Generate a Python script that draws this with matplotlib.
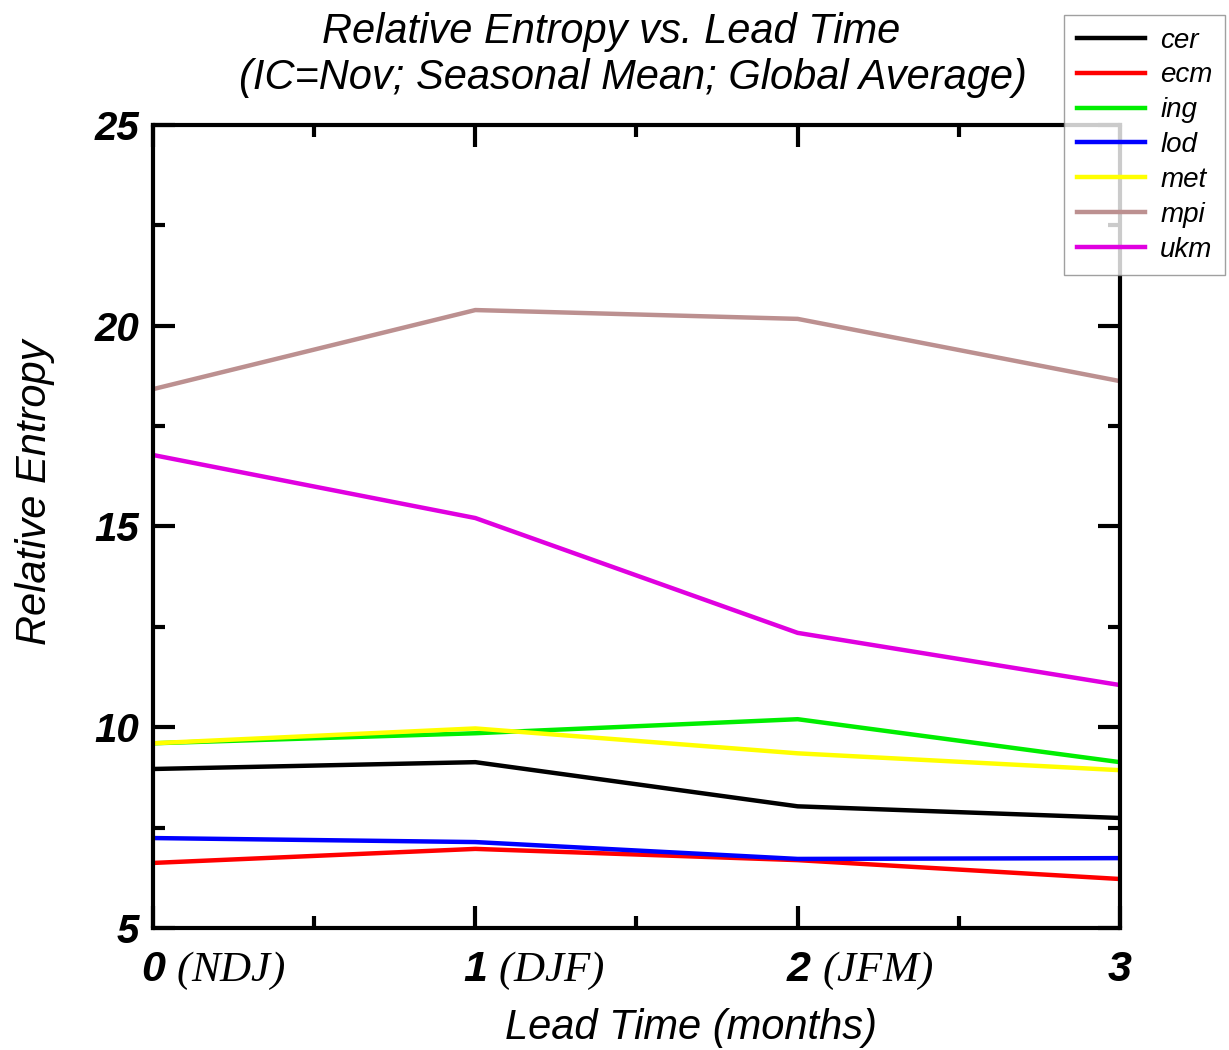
import matplotlib
matplotlib.use('Agg')
import matplotlib.pyplot as plt
from matplotlib.ticker import MultipleLocator
import matplotlib.transforms as mtransforms

plt.rcParams['font.family'] = ['Liberation Sans', 'DejaVu Sans']
plt.rcParams['mathtext.fontset'] = 'custom'
plt.rcParams['mathtext.rm'] = 'Liberation Serif:italic'
plt.rcParams['mathtext.it'] = 'Liberation Serif:italic'

lead = [0, 1, 2, 3]
lead_labels = ['0 $(NDJ)$', '1 $(DJF)$', '2 $(JFM)$', '3']

models = ['cer', 'ecm', 'ing', 'lod', 'met', 'mpi', 'ukm']
colors = ['#000000', '#ff0000', '#00ee00', '#0000ff', '#ffff00', '#bc9090', '#e000e0']

cer = [8.96, 9.13, 8.03, 7.74]
ecm = [6.62, 6.97, 6.69, 6.22]
ing = [9.60, 9.85, 10.20, 9.13]
lod = [7.24, 7.14, 6.72, 6.74]
met = [9.60, 9.97, 9.35, 8.93]
mpi = [18.42, 20.39, 20.17, 18.62]
ukm = [16.78, 15.21, 12.35, 11.05]
series = [cer, ecm, ing, lod, met, mpi, ukm]

title_lines = ['Relative Entropy vs. Lead Time',
               '(IC=Nov; Seasonal Mean; Global Average)']

lw = 3.2

fig = plt.figure(figsize=(12.29, 10.5), dpi=100)
ax = fig.add_axes([0.1245, 0.1162, 0.7868, 0.7648])

handles = []
for name, vals, c in zip(models, series, colors):
    h, = ax.plot(lead, vals, color=c, linewidth=lw, label=name,
                 solid_joinstyle='round')
    handles.append(h)

ax.set_xlim(0, 3)
ax.set_ylim(5, 25)
ax.xaxis.set_minor_locator(MultipleLocator(0.5))
ax.yaxis.set_major_locator(MultipleLocator(5))
ax.yaxis.set_minor_locator(MultipleLocator(2.5))
ax.set_xticks(lead)
ax.set_xticklabels(lead_labels)

for side in ['left', 'right', 'top', 'bottom']:
    ax.spines[side].set_linewidth(3)

ax.tick_params('both', which='major', direction='in', length=16, width=3,
               top=True, right=True)
ax.tick_params('both', which='minor', direction='in', length=8.5, width=3,
               top=True, right=True)
ax.tick_params('y', which='major', pad=10)
ax.tick_params('x', which='major', pad=16)

ticklabels = ax.get_xticklabels() + ax.get_yticklabels()
[t.set_fontsize(29) for t in ticklabels]
[t.set_fontweight('bold') for t in ticklabels]
[t.set_fontstyle('italic') for t in ticklabels]
[t.set_fontsize(31) for t in ax.get_xticklabels()]

# labels sit to the right of their tick, digit over the tick
shift = mtransforms.ScaledTranslation(-0.12, 0, fig.dpi_scale_trans)
for t in ax.get_xticklabels():
    t.set_horizontalalignment('left')
    t.set_transform(t.get_transform() + shift)

ax.set_xlabel('Lead Time (months)', fontsize=30, fontstyle='italic', labelpad=11)
ax.xaxis.label.set_x(0.556)
ax.set_ylabel('Relative Entropy', fontsize=30, fontstyle='italic', labelpad=28)
ax.yaxis.label.set_y(0.543)

fig.text(0.497, 0.970, title_lines[0], fontsize=30, fontstyle='italic',
         ha='center', va='center')
fig.text(0.515, 0.9257, title_lines[1], fontsize=30, fontstyle='italic',
         ha='center', va='center')

leg = fig.legend(handles=handles, loc='upper right',
                 bbox_to_anchor=(0.9967, 0.9857), fancybox=False,
                 prop={'size': 20, 'style': 'italic'},
                 handlelength=2.45, labelspacing=0.32, borderpad=0.45,
                 handletextpad=0.55, borderaxespad=0)
leg.get_frame().set_edgecolor('#888888')
leg.get_frame().set_linewidth(1.0)

fig.savefig('out.png', dpi=100)
